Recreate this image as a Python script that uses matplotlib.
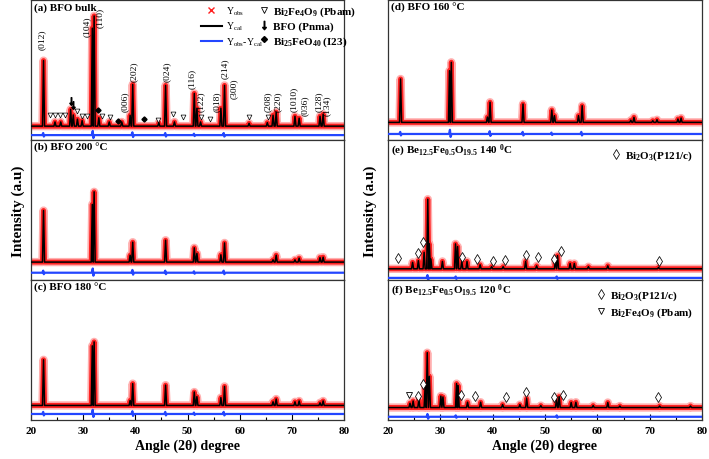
import matplotlib
matplotlib.use('Agg')
import matplotlib.pyplot as plt
from matplotlib.lines import Line2D
from matplotlib.ticker import MultipleLocator

plt.rcParams['font.family'] = ['Liberation Serif', 'DejaVu Serif']
plt.rcParams['mathtext.default'] = 'regular'

# ---- data (2theta in degree, intensity in % of panel height) ----
# BFO reflections, shared by panels a-d
bfo_pos = [22.4, 31.75, 32.1, 39.0, 39.5, 45.8, 51.3, 51.8, 56.4, 57.1, 66.4, 67.0, 70.6, 71.4, 75.4, 76.0]
h_a = [46.8, 70.0, 78.7, 7.8, 29.8, 29.1, 23.4, 12.8, 12.8, 29.1, 7.8, 10.0, 7.1, 5.7, 7.1, 8.5]
h_b = [36.8, 41.2, 50.2, 4.9, 14.2, 15.6, 10.2, 6.2, 5.2, 13.7, 1.6, 4.9, 1.6, 2.8, 3.2, 3.5]
h_c = [32.6, 42.6, 45.4, 3.6, 15.6, 14.5, 9.6, 6.3, 5.6, 13.6, 2.6, 4.6, 2.6, 3.2, 1.9, 3.2]
h_d = [31.0, 36.9, 42.9, 3.8, 14.4, 13.1, 8.8, 4.8, 4.8, 11.9, 1.5, 3.6, 1.2, 1.9, 2.4, 3.1]

# extra (impurity) peaks in the bulk sample
imp_pos_a = [24.6, 25.7, 27.6, 28.1, 28.9, 29.8, 33.0, 35.0, 37.4, 44.5, 47.5, 52.5, 61.8, 65.3]
imp_h_a = [3.0, 3.0, 12.0, 8.0, 5.0, 4.0, 6.0, 3.0, 3.0, 2.5, 3.0, 3.0, 2.0, 2.5]

# Be12.5Fe0.5O19.5 samples
pos_e = [24.7, 25.8, 26.9, 27.6, 27.9, 28.2, 30.4, 32.9, 33.3, 34.1, 35.1, 37.6, 39.8, 42.0,
         46.3, 48.4, 52.0, 52.4, 54.8, 55.6, 58.3, 62.0, 71.7]
h_e = [4.6, 5.8, 11.8, 49.7, 17.8, 7.0, 5.3, 17.8, 15.9, 5.3, 5.3, 2.9, 1.5, 1.5,
       5.3, 2.1, 6.3, 9.4, 3.8, 3.8, 1.5, 2.1, 1.0]
pos_f = [24.2, 24.8, 25.9, 27.1, 27.5, 27.9, 30.1, 30.5, 33.1, 33.4, 35.2, 37.7, 41.9, 45.2,
         46.5, 49.2, 52.2, 52.7, 55.0, 55.9, 59.2, 62.0, 64.3, 71.9, 77.8]
h_f = [3.1, 4.7, 5.9, 15.3, 39.2, 22.3, 8.2, 7.6, 17.1, 15.7, 3.8, 3.8, 2.1, 2.1,
       6.4, 1.4, 5.9, 7.8, 3.6, 3.8, 1.4, 3.6, 1.1, 1.1, 1.1]

# background level of Ycal and of the difference curve per panel
base = {'a': 9.9, 'b': 12.8, 'c': 10.4, 'd': 12.6, 'e': 8.0, 'f': 8.9}
diff_base = {'a': 3.5, 'b': 5.2, 'c': 4.3, 'd': 4.3, 'e': 1.5, 'f': 2.3}

# difference curve wiggles
diff_pos_bfo = [22.4, 31.9, 39.5, 45.8, 51.3, 57.0]
diff_amp_bfo = [1.5, 3.0, 2.0, 1.5, 1.0, 1.5]
diff_pos_be = [27.6, 33.0, 52.3]
diff_amp_be = [2.0, 1.0, 1.0]

# hkl labels for panel a
hkl = ['(012)', '(104)', '(110)', '(006)', '(202)', '(024)', '(116)', '(122)', '(018)',
       '(214)', '(300)', '(208)', '(220)', '(1010)', '(036)', '(128)', '(134)']
hkl_x = [22.1, 30.7, 33.2, 38.0, 39.7, 46.0, 50.9, 52.5, 55.6, 57.2, 58.8, 65.4, 67.4, 70.4, 72.4, 75.1, 76.8]
hkl_y = [65, 74.5, 81, 21, 42, 42, 37, 20.6, 20.6, 44, 30, 21, 21, 20.6, 17.7, 20.6, 17.7]

# phase markers
tri_x_a = [23.6, 24.6, 25.6, 26.5, 28.8, 29.7, 30.7, 33.7, 35.1, 44.4, 47.2, 49.2, 52.6, 54.4, 61.8, 65.4]
tri_y_a = [17.7, 17.7, 17.7, 17.7, 20.6, 17.0, 17.0, 17.0, 16.3, 14.2, 18.4, 16.3, 16.3, 14.9, 16.3, 16.3]
arr_x_a = [27.7, 28.1]
arr_y_a = [27.7, 24.8]
dia_x_a = [32.9, 36.6, 41.6]
dia_y_a = [21.3, 13.5, 14.9]

loz_x_e = [22.0, 25.8, 26.75, 34.1, 37.1, 40.1, 42.4, 46.3, 48.6, 51.7, 53.1, 71.7]
loz_y_e = [15.7, 19.0, 27.0, 16.7, 15.0, 13.3, 14.3, 17.9, 16.2, 15.0, 20.5, 13.8]
loz_x_f = [25.8, 26.7, 34.0, 36.7, 42.6, 46.3, 51.8, 53.4, 71.5]
loz_y_f = [17.1, 25.4, 17.8, 17.1, 16.7, 20.0, 16.7, 17.8, 16.7]
tri_x_f = [24.0]
tri_y_f = [17.6]

titles = {
    'a': '(a) BFO bulk',
    'b': '(b) BFO 200 °C',
    'c': '(c) BFO 180 °C',
    'd': '(d) BFO 160 °C',
    'e': '(e) Be$_{12.5}$Fe$_{0.5}$O$_{19.5}$ 140 $^{0}$C',
    'f': '(f) Be$_{12.5}$Fe$_{0.5}$O$_{19.5}$ 120 $^{0}$C',
}


def peak_line(pos, h, b, hw=0.2):
    # polyline through the read peak tops, back to the background between peaks
    order = sorted(range(len(pos)), key=lambda i: pos[i])
    xs, ys = [20], [b]
    for i in order:
        xs += [pos[i] - hw, pos[i], pos[i] + hw]
        ys += [b, b + h[i], b]
    xs.append(80)
    ys.append(b)
    return xs, ys


def diff_line(pos, amp, b, hw=0.12):
    xs, ys = [20], [b]
    for p, a in zip(pos, amp):
        xs += [p - 2 * hw, p - hw / 2, p + hw / 2, p + 2 * hw]
        ys += [b, b + a, b - a * 0.7, b]
    xs.append(80)
    ys.append(b)
    return xs, ys


fig = plt.figure(figsize=(7.09, 4.60), dpi=100)

x_left = [31 / 709, 388 / 709]
width = [313 / 709, 314 / 709]
bottom = 39 / 460
hgt = (420 / 460) / 3

axes = {}
for col, keys in enumerate(['abc', 'def']):
    for row, k in enumerate(keys):
        ax = fig.add_axes([x_left[col], bottom + (2 - row) * hgt, width[col], hgt])
        axes[k] = ax

series = {
    'a': (bfo_pos + imp_pos_a, h_a + imp_h_a, diff_pos_bfo, diff_amp_bfo),
    'b': (bfo_pos, h_b, diff_pos_bfo, diff_amp_bfo),
    'c': (bfo_pos, h_c, diff_pos_bfo, diff_amp_bfo),
    'd': (bfo_pos, h_d, diff_pos_bfo, diff_amp_bfo),
    'e': (pos_e, h_e, diff_pos_be, diff_amp_be),
    'f': (pos_f, h_f, diff_pos_be, diff_amp_be),
}

for k, ax in axes.items():
    pos, h, dpos, damp = series[k]
    xs, ys = peak_line(pos, h, base[k])
    ax.plot(xs, ys, color='#ffb0b0', lw=6, solid_joinstyle='round', zorder=1)
    ax.plot(xs, ys, color='#ff2020', lw=3.6, solid_joinstyle='round', zorder=2)
    ax.plot(xs, ys, color='black', lw=1.1, zorder=3)
    dx, dy = diff_line(dpos, damp, diff_base[k])
    ax.plot(dx, dy, color='#2346ff', lw=1.6, zorder=3)

    ax.set_xlim(20, 80)
    ax.set_ylim(0, 100)
    ax.set_yticks([])
    ax.xaxis.set_major_locator(MultipleLocator(10))
    ax.xaxis.set_minor_locator(MultipleLocator(5))
    for s in ax.spines.values():
        s.set_linewidth(0.9)
        s.set_color('#333333')
    ax.text(0.008, 0.985, titles[k], transform=ax.transAxes, ha='left', va='top',
            fontsize=8, fontweight='bold')
    if k in 'cf':
        ax.tick_params(axis='x', which='major', direction='in', length=4, width=0.8,
                       labelsize=8, pad=4)
        ax.tick_params(axis='x', which='minor', direction='in', length=2, width=0.8)
        for lab in ax.get_xticklabels():
            lab.set_fontweight('bold')
        ax.set_xlabel('Angle (2θ) degree', fontsize=10, fontweight='bold', labelpad=3)
    else:
        ax.tick_params(axis='x', which='both', length=0, labelbottom=False)

# panel a: hkl labels and phase markers
ax = axes['a']
for lab, x, y in zip(hkl, hkl_x, hkl_y):
    ax.text(x, y, lab, rotation=90, ha='center', va='bottom', fontsize=6.8, zorder=4)
ax.plot(tri_x_a, tri_y_a, ls='none', marker='v', ms=3.5, mfc='white', mec='black', mew=0.5, zorder=4)
ax.plot(arr_x_a, arr_y_a, ls='none', marker=r'$\downarrow$', ms=5.5, color='black', zorder=4)
ax.plot(dia_x_a, dia_y_a, ls='none', marker='D', ms=2.6, color='black', zorder=4)

leg1 = ax.legend(
    handles=[Line2D([], [], ls='none', marker='x', ms=4, mew=1, color='#ff2020'),
             Line2D([], [], color='black', lw=1.5),
             Line2D([], [], color='#2346ff', lw=1.5)],
    labels=['Y$_{obs}$', 'Y$_{cal}$', 'Y$_{obs}$-Y$_{cal}$'],
    loc='upper left', bbox_to_anchor=(0.52, 1.02), frameon=False, fontsize=7,
    handlelength=2.2, handletextpad=0.4, labelspacing=0.35, borderpad=0.2)
ax.add_artist(leg1)
ax.legend(
    handles=[Line2D([], [], ls='none', marker='v', ms=4, mfc='white', mec='black', mew=0.6),
             Line2D([], [], ls='none', marker=r'$\downarrow$', ms=6, color='black'),
             Line2D([], [], ls='none', marker='D', ms=3, color='black')],
    labels=['Bi$_2$Fe$_4$O$_9$ (Pbam)', 'BFO (Pnma)', 'Bi$_{25}$FeO$_{40}$ (I23)'],
    loc='upper left', bbox_to_anchor=(0.705, 1.02), frameon=False,
    prop={'size': 8, 'weight': 'bold'},
    handlelength=0.8, handletextpad=0.4, labelspacing=0.25, borderpad=0.2)

# panels e, f: Bi2O3 / Bi2Fe4O9 markers
loz = dict(ls='none', marker='d', ms=5, mfc='white', mec='black', mew=0.55)
axes['e'].plot(loz_x_e, loz_y_e, zorder=4, **loz)
axes['f'].plot(loz_x_f, loz_y_f, zorder=4, **loz)
axes['f'].plot(tri_x_f, tri_y_f, ls='none', marker='v', ms=4.5, mfc='white', mec='black', mew=0.6, zorder=4)

axes['e'].legend(handles=[Line2D([], [], **loz)], labels=['Bi$_2$O$_3$(P121/c)'],
                 loc='upper right', bbox_to_anchor=(1.0, 1.0), frameon=False,
                 prop={'size': 8, 'weight': 'bold'}, handlelength=0.8, handletextpad=0.4,
                 borderpad=0.3)
axes['f'].legend(handles=[Line2D([], [], **loz),
                          Line2D([], [], ls='none', marker='v', ms=4.5, mfc='white', mec='black', mew=0.6)],
                 labels=['Bi$_2$O$_3$(P121/c)', 'Bi$_2$Fe$_4$O$_9$ (Pbam)'],
                 loc='upper right', bbox_to_anchor=(1.0, 1.0), frameon=False,
                 prop={'size': 8, 'weight': 'bold'}, handlelength=0.8, handletextpad=0.4,
                 labelspacing=0.3, borderpad=0.3)

# shared y labels
fig.text(18 / 709, 0.54, 'Intensity (a.u)', rotation=90, ha='center', va='center',
         fontsize=11, fontweight='bold')
fig.text(370 / 709, 0.54, 'Intensity (a.u)', rotation=90, ha='center', va='center',
         fontsize=11, fontweight='bold')

fig.savefig('out.png', dpi=100)
